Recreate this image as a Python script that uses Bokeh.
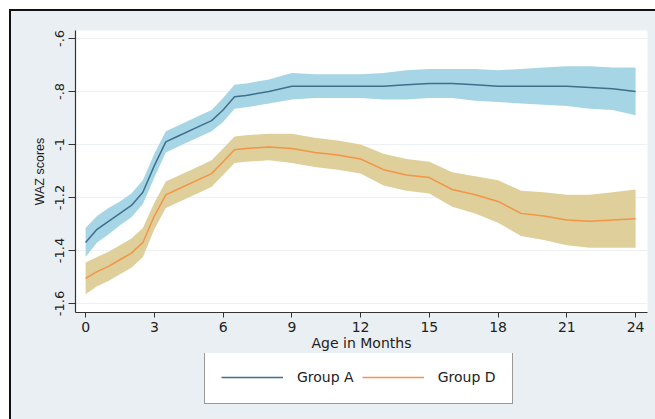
from bokeh.plotting import figure
from bokeh.layouts import column
from bokeh.models import Range1d, FixedTicker, Legend, LegendItem, ColumnDataSource
from bokeh.embed import file_html
from bokeh.resources import INLINE

months = [0, 0.5, 1, 1.5, 2, 2.5, 3, 3.5, 4, 5, 5.5, 6, 6.5, 7, 8, 9, 10, 11, 12,
          13, 14, 15, 16, 17, 18, 19, 20, 21, 22, 23, 24]

group_a = [-1.37, -1.32, -1.29, -1.26, -1.23, -1.18, -1.08, -0.99, -0.97, -0.93, -0.91,
           -0.87, -0.82, -0.815, -0.80, -0.78, -0.78, -0.78, -0.78, -0.78, -0.775, -0.77,
           -0.77, -0.775, -0.78, -0.78, -0.78, -0.78, -0.785, -0.79, -0.80]
group_a_hi = [-1.315, -1.27, -1.24, -1.215, -1.185, -1.135, -1.035, -0.95, -0.93, -0.89,
              -0.87, -0.825, -0.775, -0.77, -0.755, -0.73, -0.735, -0.735, -0.735, -0.73,
              -0.72, -0.715, -0.715, -0.715, -0.72, -0.715, -0.71, -0.705, -0.705, -0.71, -0.71]
group_a_lo = [-1.425, -1.37, -1.34, -1.305, -1.275, -1.225, -1.125, -1.03, -1.01, -0.97,
              -0.95, -0.915, -0.865, -0.86, -0.845, -0.83, -0.825, -0.825, -0.825, -0.83,
              -0.83, -0.825, -0.825, -0.835, -0.84, -0.845, -0.85, -0.855, -0.865, -0.87, -0.89]

group_d = [-1.505, -1.48, -1.46, -1.435, -1.41, -1.37, -1.27, -1.19, -1.17, -1.13, -1.11,
           -1.065, -1.02, -1.015, -1.01, -1.015, -1.03, -1.04, -1.055, -1.095, -1.115,
           -1.125, -1.17, -1.19, -1.215, -1.26, -1.27, -1.285, -1.29, -1.285, -1.28]
group_d_hi = [-1.445, -1.425, -1.405, -1.38, -1.355, -1.315, -1.22, -1.14, -1.12, -1.08,
              -1.06, -1.015, -0.97, -0.965, -0.96, -0.96, -0.975, -0.985, -1.0, -1.035,
              -1.055, -1.065, -1.105, -1.12, -1.135, -1.175, -1.18, -1.19, -1.19, -1.18, -1.17]
group_d_lo = [-1.565, -1.535, -1.515, -1.49, -1.465, -1.425, -1.32, -1.24, -1.22, -1.18,
              -1.16, -1.115, -1.07, -1.065, -1.06, -1.07, -1.085, -1.095, -1.11, -1.155,
              -1.175, -1.185, -1.235, -1.26, -1.295, -1.345, -1.36, -1.38, -1.39, -1.39, -1.39]

x_ticks = [0, 3, 6, 9, 12, 15, 18, 21, 24]
y_ticks = [-1.6, -1.4, -1.2, -1.0, -0.8, -0.6]
y_tick_labels = ["-1.6", "-1.4", "-1.2", "-1", "-.8", "-.6"]
series_labels = ["Group A", "Group D"]

src = ColumnDataSource(dict(m=months, a=group_a, ahi=group_a_hi, alo=group_a_lo,
                            d=group_d, dhi=group_d_hi, dlo=group_d_lo))

BG = "#eaeff3"
A_BAND, D_BAND = "#a6d5e5", "#dfcf9a"
A_LINE, D_LINE = "#3f6f8c", "#f39447"

p = figure(width=644, height=352, output_backend="svg", toolbar_location=None,
           x_range=Range1d(-0.44, 24.52), y_range=Range1d(-1.634, -0.57),
           min_border_left=64, min_border_right=8, min_border_top=19, min_border_bottom=51,
           background_fill_color="white", border_fill_color=BG,
           styles={"background-color": BG})
p.outline_line_color = None

p.varea(x="m", y1="alo", y2="ahi", source=src, fill_color=A_BAND, fill_alpha=1)
p.varea(x="m", y1="dlo", y2="dhi", source=src, fill_color=D_BAND, fill_alpha=1)
p.line(x="m", y="a", source=src, line_color=A_LINE, line_width=1.5)
p.line(x="m", y="d", source=src, line_color=D_LINE, line_width=1.5)

# axes
p.xaxis.ticker = FixedTicker(ticks=x_ticks)
p.yaxis.ticker = FixedTicker(ticks=y_ticks)
p.yaxis.major_label_overrides = {t: l for t, l in zip(y_ticks, y_tick_labels)}
p.yaxis.major_label_orientation = "vertical"
p.xaxis.axis_label = "Age in Months"
p.yaxis.axis_label = "WAZ scores"
for ax in (p.xaxis, p.yaxis):
    ax.axis_line_color = "#333333"
    ax.axis_line_width = 1.2
    ax.major_tick_line_color = "#333333"
    ax.major_tick_in = 0
    ax.minor_tick_line_color = None
    ax.major_label_text_color = "#222222"
    ax.axis_label_text_color = "#222222"
    ax.axis_label_text_font_style = "normal"
p.xaxis.major_tick_out = 5
p.yaxis.major_tick_out = 7
p.xaxis.major_label_text_font = "DejaVu Sans"
p.xaxis.major_label_text_font_size = "14px"
p.xaxis.major_label_standoff = 4
p.xaxis.axis_label_text_font = "DejaVu Sans"
p.xaxis.axis_label_text_font_size = "14px"
p.xaxis.axis_label_standoff = 0
p.yaxis.major_label_text_font = "DejaVu Sans"
p.yaxis.major_label_text_font_size = "13px"
p.yaxis.major_label_standoff = 4
p.yaxis.axis_label_text_font = "Liberation Sans"
p.yaxis.axis_label_text_font_size = "12.5px"
p.yaxis.axis_label_standoff = 6

p.xgrid.grid_line_color = None
p.ygrid.grid_line_color = "#edf1f4"
p.ygrid.grid_line_width = 1

# legend strip below the chart (same series, drawn off-range so only the key shows)
leg = figure(width=644, height=66, output_backend="svg", toolbar_location=None,
             x_range=Range1d(100, 101), y_range=Range1d(100, 101),
             x_axis_location=None, y_axis_location=None,
             min_border=0, min_border_left=0, min_border_right=0,
             min_border_top=0, min_border_bottom=0,
             background_fill_color=BG, border_fill_color=BG,
             styles={"background-color": BG})
leg.margin = (-10, 0, 0, 0)
leg.outline_line_color = None
leg.xgrid.grid_line_color = None
leg.ygrid.grid_line_color = None
ka = leg.line(x="m", y="a", source=src, line_color=A_LINE, line_width=1.5)
kd = leg.line(x="m", y="d", source=src, line_color=D_LINE, line_width=1.5)

legend = Legend(items=[LegendItem(label=series_labels[0], renderers=[ka]),
                       LegendItem(label=series_labels[1], renderers=[kd])],
                orientation="horizontal", location=(129, 15),
                glyph_width=62, label_standoff=14, spacing=8, padding=16,
                label_height=14, label_text_font="DejaVu Sans", label_text_font_size="14px",
                label_text_color="#222222", border_line_color="#333333", border_line_width=1.5,
                background_fill_color="white", background_fill_alpha=1, margin=0)
leg.add_layout(legend, "center")

layout = column(p, leg, spacing=0,
                styles={"border-left": "2px solid #111", "border-top": "2px solid #111",
                        "background-color": BG})
layout.margin = (9, 0, 0, 9)
open("out.html", "w").write(file_html(layout, INLINE))
